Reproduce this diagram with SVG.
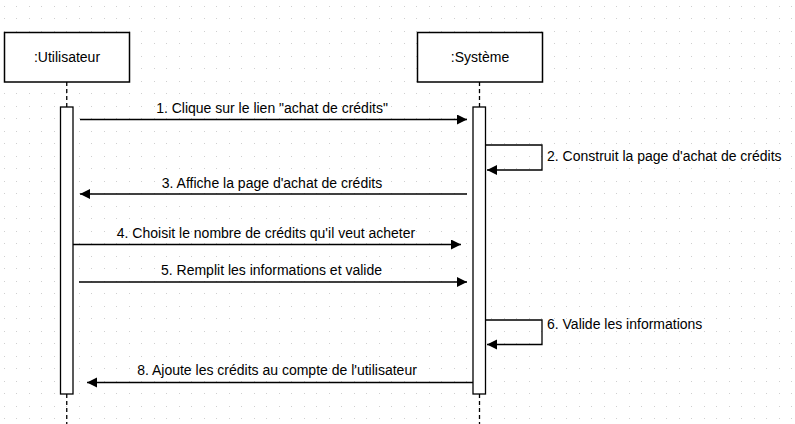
<svg xmlns="http://www.w3.org/2000/svg" width="795" height="424" viewBox="0 0 795 424">
  <style>
    .box { fill: #ffffff; stroke: #000000; stroke-width: 1.5; }
    .act { fill: #ffffff; stroke: #000000; stroke-width: 1.3; }
    .life { stroke: #000000; stroke-width: 1.3; stroke-dasharray: 4 3; fill: none; }
    .msg { stroke: #000000; stroke-width: 1.3; fill: none; marker-end: url(#arrow); }
    text { font-family: "Liberation Sans", Arial, sans-serif; font-size: 14px; fill: #000000; }
    .c { text-anchor: middle; }
  </style>
  <defs>
    <pattern id="grid" patternUnits="userSpaceOnUse" x="4" y="6" width="25" height="25">
      <rect x="0" y="0" width="1" height="1" fill="#cfcfcf"/>
      <rect x="12" y="0" width="1" height="1" fill="#cfcfcf"/>
      <rect x="0" y="12" width="1" height="1" fill="#cfcfcf"/>
      <rect x="12" y="12" width="1" height="1" fill="#cfcfcf"/>
    </pattern>
    <marker id="arrow" markerUnits="userSpaceOnUse" markerWidth="12" markerHeight="12" refX="10" refY="5" orient="auto">
      <path d="M0,0 L10,5 L0,10 Z" fill="#000000"/>
    </marker>
  </defs>
  <rect x="0" y="0" width="795" height="424" fill="#ffffff"/>
  <rect x="0" y="0" width="795" height="424" fill="url(#grid)"/>

  <g id="utilisateur">
    <rect class="box" x="4.5" y="32.5" width="125" height="49.5"/>
    <text class="c" x="67" y="62">:Utilisateur</text>
    <line class="life" x1="66.75" y1="82" x2="66.75" y2="107"/>
    <line class="life" x1="66.75" y1="394" x2="66.75" y2="424"/>
    <rect class="act" x="60.5" y="107" width="12.5" height="287"/>
  </g>

  <g id="systeme">
    <rect class="box" x="417.5" y="32.5" width="125" height="49.5"/>
    <text class="c" x="480" y="62">:Système</text>
    <line class="life" x1="479.5" y1="82" x2="479.5" y2="107"/>
    <line class="life" x1="479.5" y1="394" x2="479.5" y2="424"/>
    <rect class="act" x="473" y="107" width="12.5" height="287"/>
  </g>

  <g id="connectors">
    <path class="msg" d="M80,119.5 H467"/>
    <path class="msg" d="M486,145 H542 V170 H487"/>
    <path class="msg" d="M467,194 H80"/>
    <path class="msg" d="M73,244.5 H461"/>
    <path class="msg" d="M79,282 H467"/>
    <path class="msg" d="M486,320 H542 V344.5 H487"/>
    <path class="msg" d="M473,382.5 H87"/>
  </g>

  <g id="labels">
    <text class="c" x="272" y="113">1. Clique sur le lien "achat de crédits"</text>
    <text x="547" y="161">2. Construit la page d'achat de crédits</text>
    <text class="c" x="272" y="188">3. Affiche la page d'achat de crédits</text>
    <text class="c" x="266" y="238">4. Choisit le nombre de crédits qu'il veut acheter</text>
    <text class="c" x="271.5" y="275">5. Remplit les informations et valide</text>
    <text x="547" y="329">6. Valide les informations</text>
    <text class="c" x="277" y="375">8. Ajoute les crédits au compte de l'utilisateur</text>
  </g>
</svg>
